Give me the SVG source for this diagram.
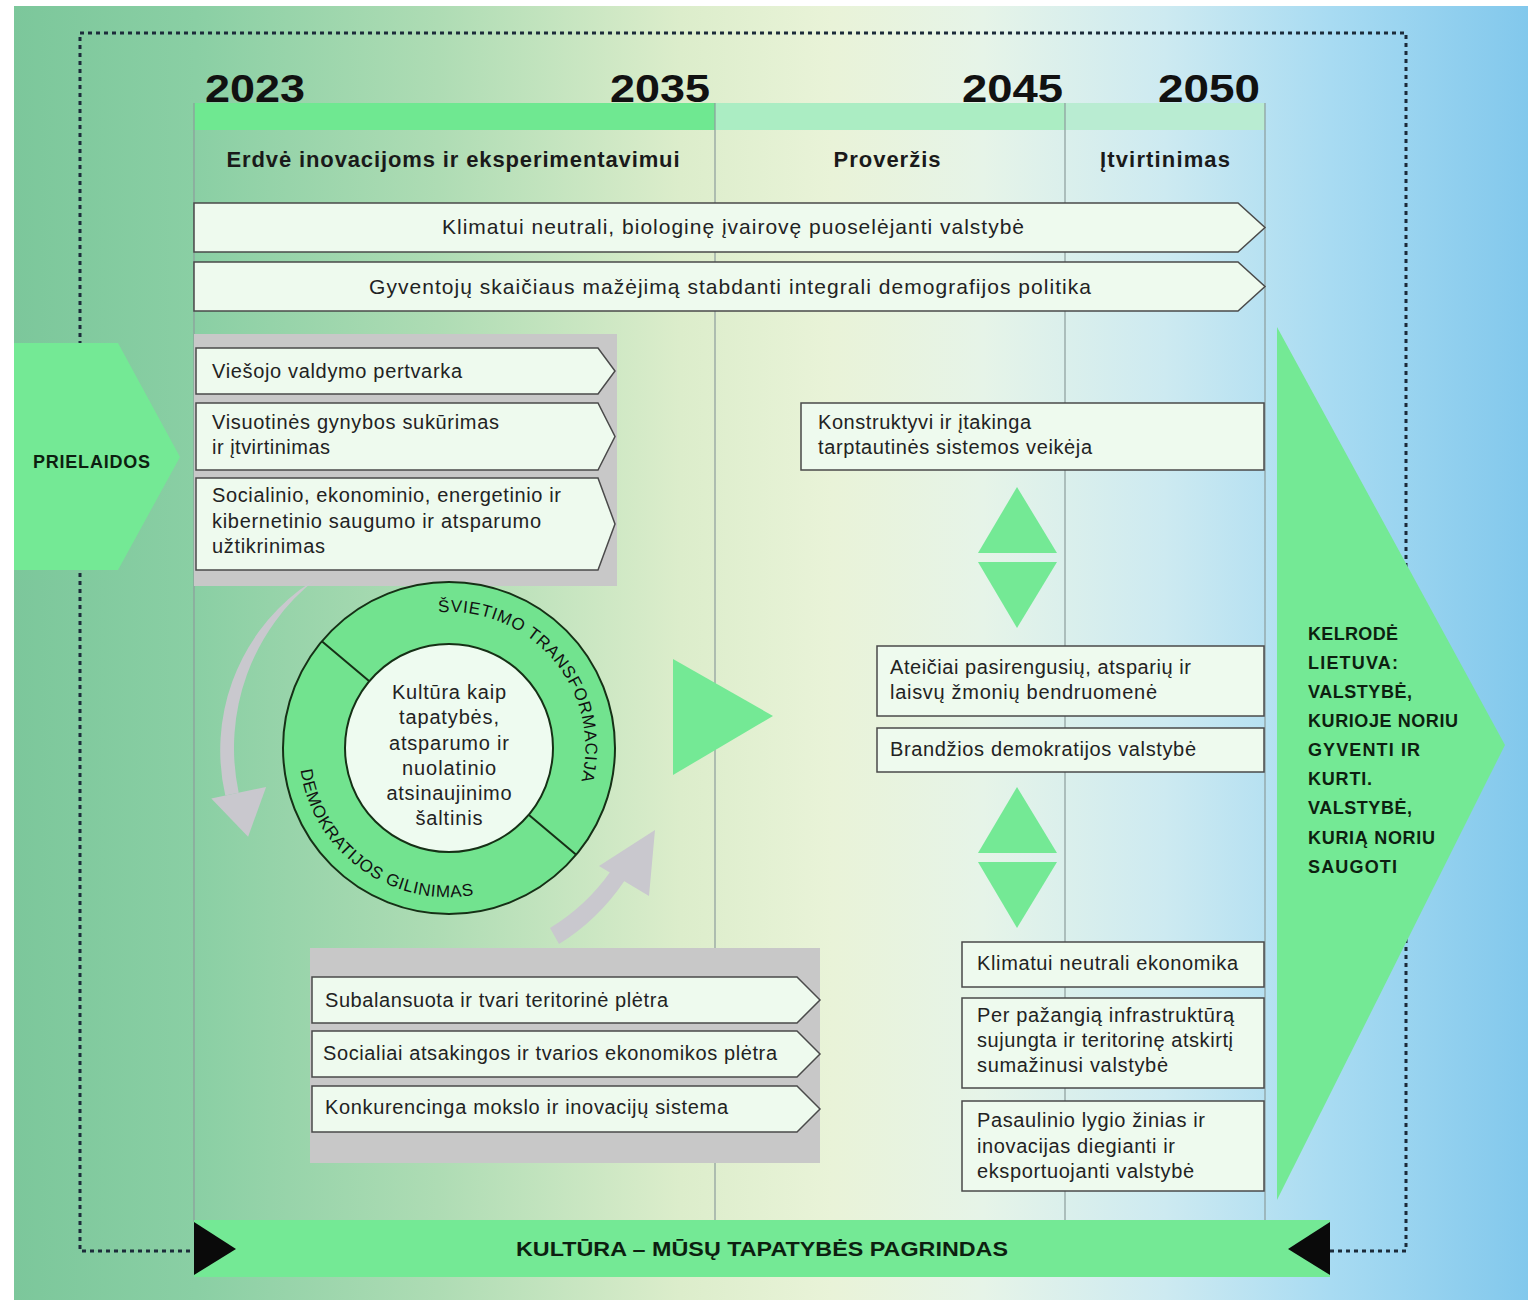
<svg xmlns="http://www.w3.org/2000/svg" width="1536" height="1300" viewBox="0 0 1536 1300">
<style>
.box{fill:#eefaee;stroke:#4a4a4a;stroke-width:1.5}
.t{font-family:"Liberation Sans",Arial,sans-serif;font-size:20px;fill:#222}
.tm{font-family:"Liberation Sans",Arial,sans-serif;font-size:20px;fill:#222;text-anchor:middle}
.tl{font-family:"Liberation Sans",Arial,sans-serif;font-size:21px;fill:#222;text-anchor:middle}
.hd{font-family:"Liberation Sans",Arial,sans-serif;font-size:22px;font-weight:bold;fill:#1a1a1a;text-anchor:middle}
.yr{font-family:"Liberation Sans",Arial,sans-serif;font-size:39px;font-weight:bold;fill:#111}
.cap{font-family:"Liberation Sans",Arial,sans-serif;font-size:18px;font-weight:bold;fill:#0d1f10}
.ring{font-family:"Liberation Sans",Arial,sans-serif;font-size:17px;fill:#111}
.green{fill:#74e995}
.col{stroke:#8c9c9c;stroke-width:1.2}
.grey{fill:#c8c8c8}
.garrow{fill:#c9c8ce}
</style>
<defs>
<linearGradient id="bg" x1="0" y1="0" x2="1" y2="0">
<stop offset="0" stop-color="#7cc79b"/>
<stop offset="0.12" stop-color="#8acfa4"/>
<stop offset="0.28" stop-color="#aedcb4"/>
<stop offset="0.44" stop-color="#dcedcb"/>
<stop offset="0.54" stop-color="#e9f3d8"/>
<stop offset="0.64" stop-color="#e6f4e8"/>
<stop offset="0.76" stop-color="#cdeaf1"/>
<stop offset="0.87" stop-color="#a8dbf2"/>
<stop offset="1" stop-color="#82c8ec"/>
</linearGradient>
<path id="arcTop" d="M 438.4 612.4 A 136 136 0 0 1 579.1 788.8"/>
<path id="arcBot" d="M 300.5 770.0 A 149 149 0 0 0 474.9 894.7"/>
</defs>
<rect width="1536" height="1300" fill="#ffffff"/>
<rect x="14" y="6" width="1514" height="1294" fill="url(#bg)"/>

<g id="frame">
<rect x="80" y="33" width="1326" height="1218" fill="none" stroke="#1c2b3a" stroke-width="3" stroke-dasharray="4 4"/>
</g>

<g id="timeline">
<text class="yr" x="205" y="102" textLength="100" lengthAdjust="spacingAndGlyphs">2023</text>
<text class="yr" x="610" y="102" textLength="100" lengthAdjust="spacingAndGlyphs">2035</text>
<text class="yr" x="962" y="102" textLength="101" lengthAdjust="spacingAndGlyphs">2045</text>
<text class="yr" x="1158" y="102" textLength="102" lengthAdjust="spacingAndGlyphs">2050</text>
<rect x="194" y="103" width="521" height="27" fill="#6fe891"/>
<rect x="715" y="103" width="350" height="27" fill="#abedc3"/>
<rect x="1065" y="103" width="200" height="27" fill="#b9ecd2"/>
<line class="col" x1="194" y1="103" x2="194" y2="1222"/>
<line class="col" x1="715" y1="103" x2="715" y2="1222"/>
<line class="col" x1="1065" y1="103" x2="1065" y2="1222"/>
<line class="col" x1="1265" y1="103" x2="1265" y2="1222"/>
<text class="hd" x="453" y="167" textLength="453">Erdvė inovacijoms ir eksperimentavimui</text>
<text class="hd" x="887" y="167" textLength="107">Proveržis</text>
<text class="hd" x="1165" y="167" textLength="130">Įtvirtinimas</text>
</g>

<g id="goal-klimatas">
<path class="box" d="M194 203 H1238 L1265 227.5 L1238 252 H194 Z"/>
<text class="tl" x="733" y="234" textLength="582">Klimatui neutrali, biologinę įvairovę puoselėjanti valstybė</text>
</g>
<g id="goal-demografija">
<path class="box" d="M194 262 H1238 L1265 286.5 L1238 311 H194 Z"/>
<text class="tl" x="730" y="294" textLength="722">Gyventojų skaičiaus mažėjimą stabdanti integrali demografijos politika</text>
</g>

<g id="prielaidos">
<path class="green" d="M14 343 H118 L180 457 L118 570 H14 Z"/>
<text class="cap" x="33" y="468" textLength="117">PRIELAIDOS</text>
</g>

<g id="panel-saugumas">
<rect class="grey" x="194" y="334" width="423" height="252"/>
</g>

<g id="connectors">
<path class="garrow" d="M 316.6 578.6 A 215 215 0 0 0 238.7 792.7 L 225.3 795.5 A 202 202 0 0 1 299.5 590 Z"/>
<path class="garrow" d="M 211.3 798.5 L 248.1 836.7 L 266.1 786.9 Z"/>
<path class="garrow" d="M 559 944 A 220 220 0 0 0 624.7 880.4 L 610.5 871.5 A 203 203 0 0 1 550 928 Z"/>
<path class="garrow" d="M 599 866 L 655 830 L 649 896 Z"/>
<polygon class="green" points="673,659 773,716 673,775"/>
<polygon class="green" points="1017,487 1057,553 978,553"/>
<polygon class="green" points="978,562 1057,562 1017,628"/>
<polygon class="green" points="1017,787 1057,853 978,853"/>
<polygon class="green" points="978,862 1057,862 1017,928"/>
</g>

<g id="viesojo-valdymo">
<path class="box" d="M196 348 H598 L615 371 L598 394 H196 Z"/>
<text class="t" x="212" y="378" textLength="250">Viešojo valdymo pertvarka</text>
</g>
<g id="visuotines-gynybos">
<path class="box" d="M196 403 H598 L615 436.5 L598 470 H196 Z"/>
<text class="t" x="212" y="429" textLength="287">Visuotinės gynybos sukūrimas</text>
<text class="t" x="212" y="454" textLength="118">ir įtvirtinimas</text>
</g>
<g id="saugumo-atsparumo">
<path class="box" d="M196 478 H598 L615 524 L598 570 H196 Z"/>
<text class="t" x="212" y="502" textLength="349">Socialinio, ekonominio, energetinio ir</text>
<text class="t" x="212" y="528" textLength="329">kibernetinio saugumo ir atsparumo</text>
<text class="t" x="212" y="553" textLength="113">užtikrinimas</text>
</g>

<g id="kultura-ratas">
<circle cx="449" cy="748" r="166" fill="#72e38f" stroke="#163016" stroke-width="2"/>
<circle cx="449" cy="748" r="104" fill="#eefbf0" stroke="#163016" stroke-width="2"/>
<line x1="321.8" y1="641.3" x2="369.3" y2="681.2" stroke="#163016" stroke-width="2"/>
<line x1="528.7" y1="814.8" x2="576.2" y2="854.7" stroke="#163016" stroke-width="2"/>
<text class="ring"><textPath href="#arcTop" textLength="258">ŠVIETIMO TRANSFORMACIJA</textPath></text>
<text class="ring"><textPath href="#arcBot" textLength="238">DEMOKRATIJOS GILINIMAS</textPath></text>
<text class="tm" x="449" y="699" textLength="114">Kultūra kaip</text>
<text class="tm" x="449" y="724" textLength="100">tapatybės,</text>
<text class="tm" x="449" y="750" textLength="120">atsparumo ir</text>
<text class="tm" x="449" y="775" textLength="94">nuolatinio</text>
<text class="tm" x="449" y="800" textLength="125">atsinaujinimo</text>
<text class="tm" x="449" y="825" textLength="67">šaltinis</text>
</g>

<g id="panel-pletra">
<rect class="grey" x="310" y="948" width="510" height="215"/>
</g>
<g id="teritorine-pletra">
<path class="box" d="M312 977 H797 L820 1000 L797 1023 H312 Z"/>
<text class="t" x="325" y="1007" textLength="343">Subalansuota ir tvari teritorinė plėtra</text>
</g>
<g id="ekonomikos-pletra">
<path class="box" d="M312 1031 H797 L820 1054 L797 1077 H312 Z"/>
<text class="t" x="323" y="1060" textLength="454">Socialiai atsakingos ir tvarios ekonomikos plėtra</text>
</g>
<g id="mokslo-inovaciju">
<path class="box" d="M312 1086 H797 L820 1109 L797 1132 H312 Z"/>
<text class="t" x="325" y="1114" textLength="403">Konkurencinga mokslo ir inovacijų sistema</text>
</g>

<g id="tarptautines-sistemos">
<rect class="box" x="801" y="403" width="463" height="67"/>
<text class="t" x="818" y="429" textLength="213">Konstruktyvi ir įtakinga</text>
<text class="t" x="818" y="454" textLength="274">tarptautinės sistemos veikėja</text>
</g>
<g id="bendruomene">
<rect class="box" x="877" y="646" width="387" height="70"/>
<text class="t" x="890" y="674" textLength="301">Ateičiai pasirengusių, atsparių ir</text>
<text class="t" x="890" y="699" textLength="267">laisvų žmonių bendruomenė</text>
</g>
<g id="demokratija">
<rect class="box" x="877" y="728" width="387" height="44"/>
<text class="t" x="890" y="756" textLength="306">Brandžios demokratijos valstybė</text>
</g>
<g id="klimatui-neutrali-ekonomika">
<rect class="box" x="962" y="942" width="302" height="45"/>
<text class="t" x="977" y="970" textLength="261">Klimatui neutrali ekonomika</text>
</g>
<g id="infrastruktura">
<rect class="box" x="962" y="998" width="302" height="90"/>
<text class="t" x="977" y="1022" textLength="257">Per pažangią infrastruktūrą</text>
<text class="t" x="977" y="1047" textLength="256">sujungta ir teritorinę atskirtį</text>
<text class="t" x="977" y="1072" textLength="191">sumažinusi valstybė</text>
</g>
<g id="zinios-inovacijos">
<rect class="box" x="962" y="1101" width="302" height="90"/>
<text class="t" x="977" y="1127" textLength="228">Pasaulinio lygio žinias ir</text>
<text class="t" x="977" y="1153" textLength="198">inovacijas diegianti ir</text>
<text class="t" x="977" y="1178" textLength="217">eksportuojanti valstybė</text>
</g>

<g id="kelrode-lietuva">
<polygon class="green" points="1277,327 1505,745 1277,1200"/>
<text class="cap" x="1308" y="640" textLength="90">KELRODĖ</text>
<text class="cap" x="1308" y="669" textLength="90">LIETUVA:</text>
<text class="cap" x="1308" y="698" textLength="104">VALSTYBĖ,</text>
<text class="cap" x="1308" y="727" textLength="150">KURIOJE NORIU</text>
<text class="cap" x="1308" y="756" textLength="112">GYVENTI IR</text>
<text class="cap" x="1308" y="785" textLength="64">KURTI.</text>
<text class="cap" x="1308" y="814" textLength="104">VALSTYBĖ,</text>
<text class="cap" x="1308" y="844" textLength="127">KURIĄ NORIU</text>
<text class="cap" x="1308" y="873" textLength="89">SAUGOTI</text>
</g>

<g id="kultura-pagrindas">
<rect class="green" x="194" y="1220" width="1136" height="57"/>
<polygon points="194,1222 236,1249 194,1275" fill="#0a0a0a"/>
<polygon points="1330,1222 1288,1249 1330,1275" fill="#0a0a0a"/>
<text x="762" y="1256" text-anchor="middle" font-family="'Liberation Sans',Arial,sans-serif" font-size="21" font-weight="bold" fill="#0d1f10" textLength="492" lengthAdjust="spacingAndGlyphs">KULTŪRA – MŪSŲ TAPATYBĖS PAGRINDAS</text>
</g>
</svg>
